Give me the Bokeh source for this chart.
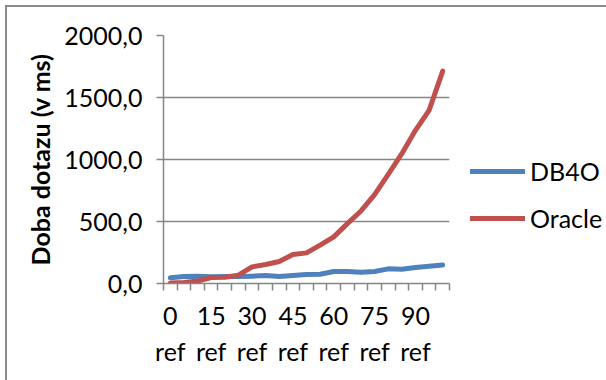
from bokeh.plotting import figure
from bokeh.models import (FixedTicker, Legend, LegendItem, Range1d)
from bokeh.embed import file_html
from bokeh.resources import INLINE

categories = ["0 ref", "5 ref", "10 ref", "15 ref", "20 ref", "25 ref", "30 ref",
              "35 ref", "40 ref", "45 ref", "50 ref", "55 ref", "60 ref", "65 ref",
              "70 ref", "75 ref", "80 ref", "85 ref", "90 ref", "95 ref", "100 ref"]
db4o = [46, 56, 59, 54, 56, 56, 59, 64, 56, 64, 72, 75, 97, 97, 91, 97, 118, 115, 129, 140, 150]
oracle = [5, 8, 20, 48, 51, 67, 134, 153, 177, 234, 247, 309, 376, 483, 585, 717, 880, 1047, 1235, 1396, 1713]
y_ticks = [0, 500, 1000, 1500, 2000]
label_every = 3

FONT = "Lato"
FS = "25px"
GRID = "#868686"
OFF = 7  # css margin + border of the chart area

xs = list(range(len(categories)))

p = figure(width=606 - OFF, height=380 - OFF, output_backend="svg", toolbar_location=None,
           x_range=Range1d(-0.5, len(categories) - 0.5), y_range=Range1d(0, 2000),
           min_border_left=163 - OFF, min_border_right=157, min_border_top=35 - OFF,
           min_border_bottom=97)
p.frame_width = 286
p.frame_height = 248
p.outline_line_color = None
p.background_fill_color = "white"
p.border_fill_color = "white"
p.styles = {"margin-left": "5px", "margin-top": "5px",
            "border-left": "2px solid #8c8c8c", "border-top": "2px solid #8c8c8c"}

r1 = p.line(xs, db4o, line_color="#4F81BD", line_width=5, line_cap="round", line_join="round")
r2 = p.line(xs, oracle, line_color="#C0504D", line_width=5, line_cap="round", line_join="round")

# x axis
lab_ticks = [i for i in xs if i % label_every == 0]
p.xaxis.ticker = FixedTicker(ticks=lab_ticks, minor_ticks=[i - 0.5 for i in range(len(categories) + 1)])
p.xaxis.major_label_overrides = {i: categories[i].replace(" ", "\n") for i in lab_ticks}
p.xaxis.major_tick_line_color = None
p.xaxis.minor_tick_line_color = GRID
p.xaxis.minor_tick_out = 7
p.xaxis.minor_tick_in = 0
p.xaxis.minor_tick_line_width = 1.5
p.xaxis.axis_line_color = GRID
p.xaxis.axis_line_width = 1.5
p.xaxis.major_label_text_font = FONT
p.xaxis.major_label_text_font_size = FS
p.xaxis.major_label_text_color = "black"
p.xaxis.major_label_standoff = 9
p.xgrid.grid_line_color = None

# y axis
p.yaxis.ticker = FixedTicker(ticks=y_ticks)
p.yaxis.major_label_overrides = {t: f"{t:.1f}".replace(".", ",") for t in y_ticks}
p.yaxis.minor_tick_line_color = None
p.yaxis.major_tick_line_color = GRID
p.yaxis.major_tick_out = 7
p.yaxis.major_tick_in = 0
p.yaxis.major_tick_line_width = 1.5
p.yaxis.axis_line_color = GRID
p.yaxis.axis_line_width = 1.5
p.yaxis.major_label_text_font = FONT
p.yaxis.major_label_text_font_size = FS
p.yaxis.major_label_text_color = "black"
p.yaxis.major_label_standoff = 14
p.yaxis.axis_label = "Doba dotazu (v ms)"
p.yaxis.axis_label_text_font = FONT
p.yaxis.axis_label_text_font_size = FS
p.yaxis.axis_label_text_font_style = "bold"
p.yaxis.axis_label_text_color = "black"
p.yaxis.axis_label_standoff = 6
p.ygrid.grid_line_color = GRID
p.ygrid.grid_line_width = 1.5

legend = Legend(items=[LegendItem(label="DB4O", renderers=[r1]),
                       LegendItem(label="Oracle", renderers=[r2])],
                location=(21, 50), orientation="vertical",
                glyph_width=55, glyph_height=24, label_height=24, spacing=17,
                label_standoff=5, padding=0, margin=0,
                border_line_color=None, background_fill_alpha=0,
                label_text_font=FONT, label_text_font_size=FS, label_text_color="black")
p.add_layout(legend, "right")

open("out.html", "w").write(file_html(p, INLINE))
